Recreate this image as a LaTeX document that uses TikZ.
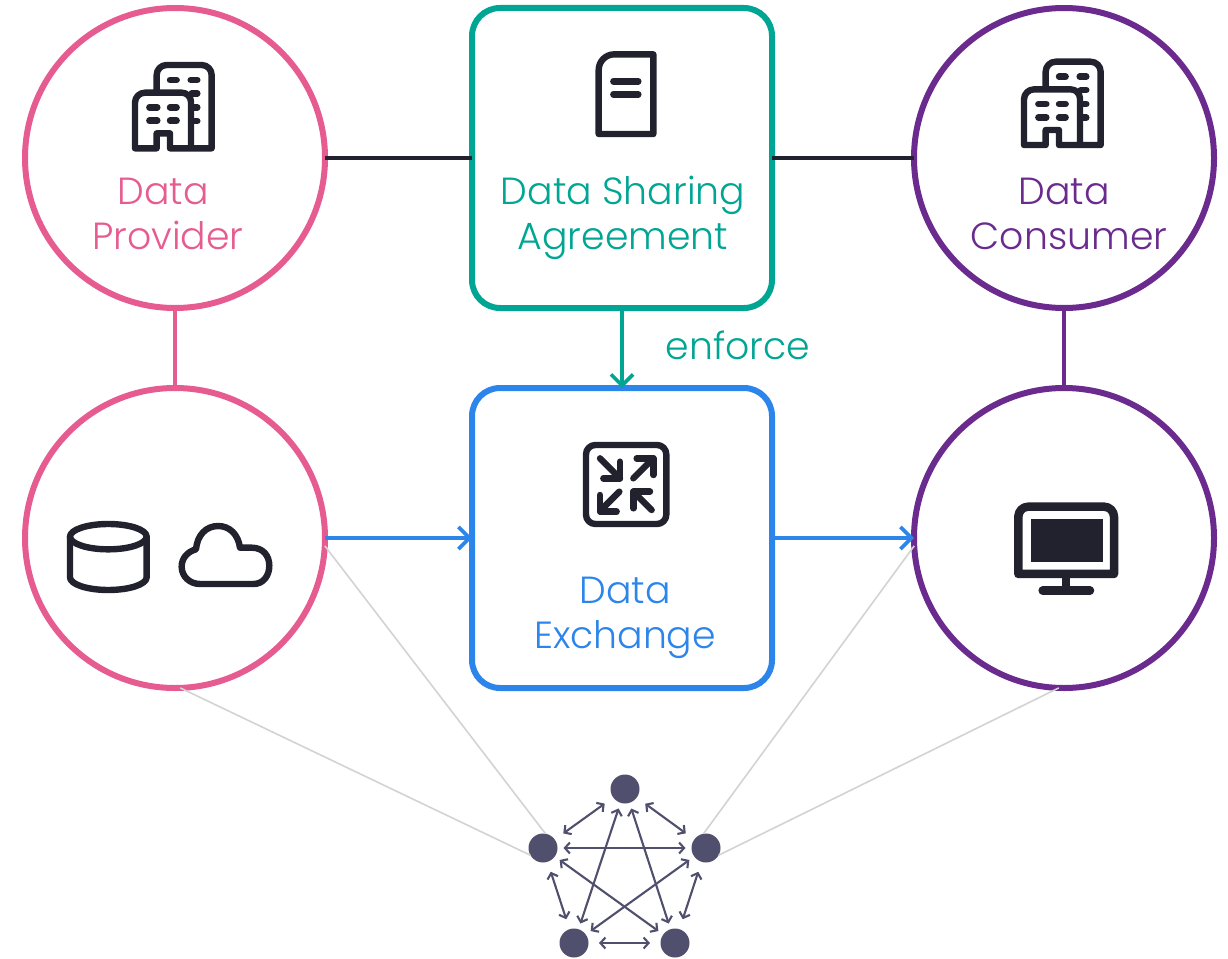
\documentclass[tikz,border=0pt]{standalone}
\usepackage{fontspec}
\setmainfont{Poppins}[UprightFont=* Light]
\usetikzlibrary{arrows.meta}
\definecolor{cpink}{HTML}{E65C90}
\definecolor{cteal}{HTML}{00A693}
\definecolor{cblue}{HTML}{2B85EA}
\definecolor{cpurple}{HTML}{6A2A8E}
\definecolor{cdark}{HTML}{22222E}
\definecolor{cslate}{HTML}{50506E}
\definecolor{cgrey}{HTML}{D3D3D3}
\tikzset{
  x=1pt,y=-1pt,
  ring/.style={draw=#1,circle,line width=6pt,minimum size=300pt,inner sep=0pt,outer sep=0pt},
  panel/.style={draw=#1,rectangle,rounded corners=28pt,line width=6pt,minimum size=300pt,inner sep=0pt,outer sep=0pt},
  caption/.style={text=#1,font=\fontsize{37.8}{45}\selectfont,align=center,inner sep=0pt},
  peer/.style={circle,fill=cslate,minimum size=29pt,inner sep=0pt,outer sep=0pt},
  link/.style={line width=4pt},
  flow/.style={line width=3.6pt,draw=#1,-{Straight Barb[length=11pt,width=22pt,line width=3.6pt]}},
  faint/.style={draw=cgrey,line width=1.6pt},
  mesh/.style={draw=cslate,line width=2.1pt,{Straight Barb[length=5pt,width=11pt,line width=2.1pt]}-{Straight Barb[length=5pt,width=11pt,line width=2.1pt]}},
  side/.style={mesh,shorten >=10.5pt,shorten <=10.5pt},
  diag/.style={mesh,shorten >=6pt,shorten <=6pt},
  iconline/.style={draw=cdark,line width=6.4pt,line cap=round,line join=round},
  building/.pic={
    \begin{scope}[x=.3333pt,y=-.3333pt,iconline]
      \draw (140,125) -- (140,75) arc[start angle=180,end angle=270,radius=30] -- (275,45) arc[start angle=270,end angle=360,radius=30] -- (305,295) -- (180,295) -- (180,250) -- (140,250) -- (140,295) -- (75,295) -- (75,158) arc[start angle=180,end angle=270,radius=30] -- (215,128) arc[start angle=270,end angle=360,radius=28] -- (243,295);
      \foreach \a/\b/\c in {180/200/90,242/262/90,118/142/172,180/200/172,118/142/212,180/200/212,245/262/130,252/262/172,252/262/213}
        \draw (\a,\c) -- (\b,\c);
    \end{scope}},
  database/.pic={
    \begin{scope}[x=.3333pt,y=-.3333pt,iconline]
      \draw (175,110) ellipse[x radius=115,y radius=38];
      \draw (60,110) -- (60,232) arc[start angle=180,end angle=0,x radius=115,y radius=38] -- (290,110);
    \end{scope}},
  cloudicon/.pic={
    \begin{scope}[x=.3333pt,y=-.3333pt,iconline]
      \draw (450,252) -- (610,252) .. controls (642,252) and (658,225) .. (658,197) .. controls (658,168) and (640,143) .. (605,143) -- (570,143) .. controls (565,105) and (540,78) .. (505,78) .. controls (468,78) and (442,105) .. (438,148) .. controls (412,155) and (395,175) .. (395,200) .. controls (395,230) and (420,252) .. (450,252) -- cycle;
    \end{scope}},
  swapicon/.pic={
    \begin{scope}[x=.3333pt,y=-.3333pt,iconline]
      \draw[rounded corners=28*.3333pt] (48,45) rectangle (289,282);
      \draw (90,85) -- (150,145);
      \draw (150,95) -- (150,145) -- (100,145);
      \draw (190,145) -- (250,85);
      \draw (200,85) -- (250,85) -- (250,135);
      \draw (148,185) -- (90,243);
      \draw (90,195) -- (90,245) -- (140,245);
      \draw (245,240) -- (190,185);
      \draw (190,235) -- (190,185) -- (240,185);
    \end{scope}},
  monitoricon/.pic={
    \begin{scope}[x=.3333pt,y=-.3333pt]
      \draw[draw=cdark,line width=8.5pt,line join=round] (55,252) -- (55,80) arc[start angle=180,end angle=270,radius=30] -- (312,50) arc[start angle=270,end angle=360,radius=30] -- (342,252) -- cycle;
      \fill[cdark] (92,88) rectangle (308,215);
      \draw[cdark,line width=7.5pt] (198,255) -- (198,300);
      \draw[cdark,line width=8.5pt,line cap=round] (128,302) -- (270,302);
    \end{scope}},
  docicon/.pic={
    \begin{scope}[x=.3333pt,y=-.3333pt,iconline]
      \draw (56,282) -- (56,90) arc[start angle=180,end angle=270,radius=47] -- (220,43) -- (220,282) -- cycle;
      \draw (100,124) -- (175,124);
      \draw (100,163) -- (175,163);
    \end{scope}}
}
\begin{document}
\begin{tikzpicture}
\useasboundingbox[fill=white] (0,0) rectangle (1228,958);
% main shapes
\node[ring=cpink] (pt) at (175,158) {};
\node[ring=cpink] (pb) at (175,538) {};
\node[ring=cpurple] (ct) at (1064,158) {};
\node[ring=cpurple] (cb) at (1064,538) {};
\node[panel=cteal] (dsa) at (622,158) {};
\node[panel=cblue] (dex) at (622,538) {};
% network
\node[peer] (n1) at (625,789) {};
\node[peer] (n2) at (543,848) {};
\node[peer] (n3) at (706,848) {};
\node[peer] (n4) at (574,943) {};
\node[peer] (n5) at (675,943) {};
% faint links
\draw[faint] (pb.-88) -- (n2.210);
\draw[faint] (pb.-3) -- (n2.80);
\draw[faint] (cb.-92) -- (n3.-30);
\draw[faint] (cb.183) -- (n3.100);
% connectors
\draw[link,draw=cdark] (pt.east) -- (dsa.west);
\draw[link,draw=cdark] (dsa.east) -- (ct.west);
\draw[link,draw=cpink] (pt.south) -- (pb.north);
\draw[link,draw=cpurple] (ct.south) -- (cb.north);
\draw[flow=cteal] (dsa.south) -- (dex.north);
\draw[flow=cblue] (pb.east) -- (dex.west);
\draw[flow=cblue] (dex.east) -- (cb.west);
% mesh
\draw[side] (n1) -- (n2);
\draw[side] (n1) -- (n3);
\draw[side] (n2) -- (n4);
\draw[side] (n3) -- (n5);
\draw[side] (n4) -- (n5);
\draw[diag] (n2) -- (n3);
\draw[diag] (n1) -- (n4);
\draw[diag] (n1) -- (n5);
\draw[diag] (n3) -- (n4);
\draw[diag] (n2) -- (n5);
% captions
\node[caption=cpink] (lp) at (168,214) {Data\hspace*{10pt}\\Provider};
\node[caption=cteal] (la) at (623,218) {Data Sharing\\Agreement};
\node[caption=cpurple] (lc) at (1069,214) {Data\hspace*{10pt}\\Consumer};
\node[caption=cblue] (le) at (625,618) {Data\\Exchange};
\node[caption=cteal] (lf) at (738,345) {enforce};
% icons
\pic at (110,50) {building};
\pic at (999,46.7) {building};
\pic at (50,500) {database};
\pic at (50,500) {cloudicon};
\pic at (570,430) {swapicon};
\pic at (1000,490) {monitoricon};
\pic at (580,40) {docicon};
\end{tikzpicture}
\end{document}
